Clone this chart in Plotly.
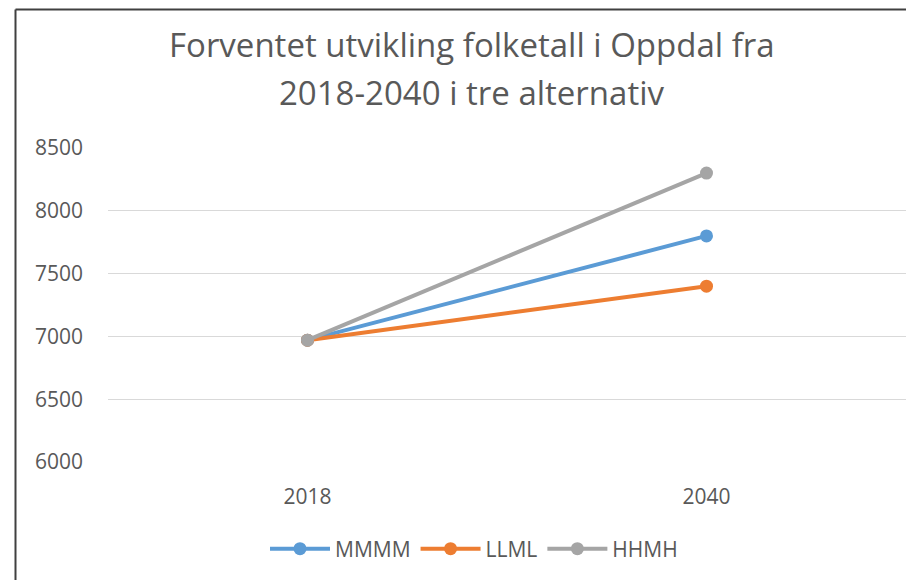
import plotly.graph_objects as go

years = ["2018", "2040"]
series_names = ["MMMM", "LLML", "HHMH"]
mmmm = [6970, 7800]
llml = [6970, 7400]
hhmh = [6970, 8300]
colors = ["#5B9BD5", "#ED7D31", "#A5A5A5"]
y_ticks = [6000, 6500, 7000, 7500, 8000, 8500]
title_lines = ["Forventet utvikling folketall i Oppdal fra", "2018-2040 i tre alternativ"]

W, H = 906, 580
L, R, T, B = 108, 0, 148, 118
pw = W - L - R
ph = H - T - B

def px(x):
    return (x - L) / pw

def py(y):
    return (H - B - y) / ph

fig = go.Figure()
for name, vals, col in zip(series_names, [mmmm, llml, hhmh], colors):
    fig.add_trace(go.Scatter(
        x=years, y=vals, name=name, mode="lines+markers",
        line=dict(color=col, width=4),
        marker=dict(color=col, size=13),
    ))

font_family = "Open Sans, Lato, sans-serif"
fig.update_layout(
    width=W, height=H,
    margin=dict(l=L, r=R, t=T, b=B),
    paper_bgcolor="white", plot_bgcolor="white",
    showlegend=True,
    legend=dict(orientation="h", xanchor="center", x=px(474), yanchor="middle", y=py(549),
                font=dict(family=font_family, size=21, color="#595959"),
                itemwidth=60, traceorder="normal", tracegroupgap=0),
    xaxis=dict(type="category", range=[-0.5, 1.5], showgrid=False, zeroline=False,
               showline=False, ticks="", ticklabelstandoff=20,
               tickfont=dict(family=font_family, size=21, color="#595959")),
    yaxis=dict(range=[6000, 8500], tickvals=y_ticks, showgrid=True, gridcolor="#D9D9D9",
               gridwidth=1, zeroline=False, showline=False, ticks="", ticklabelstandoff=24,
               tickfont=dict(family=font_family, size=21, color="#595959")),
    font=dict(family=font_family),
)

for i, (txt, yy) in enumerate(zip(title_lines, [45, 92])):
    fig.add_annotation(text=txt, x=px(472), y=py(yy), xref="paper", yref="paper",
                       xanchor="center", yanchor="middle", showarrow=False,
                       font=dict(family=font_family, size=33, color="#595959"))

# chart border (left and top edges visible)
fig.add_shape(type="line", xref="paper", yref="paper", x0=px(15.5), x1=px(15.5),
              y0=py(9.5), y1=py(600), line=dict(color="#404040", width=2))
fig.add_shape(type="line", xref="paper", yref="paper", x0=px(15.5), x1=px(920),
              y0=py(9.5), y1=py(9.5), line=dict(color="#404040", width=2))

fig.write_html("out.html", config={"displayModeBar": False},
               post_script="document.body.style.margin='0';document.body.style.overflow='hidden';")
